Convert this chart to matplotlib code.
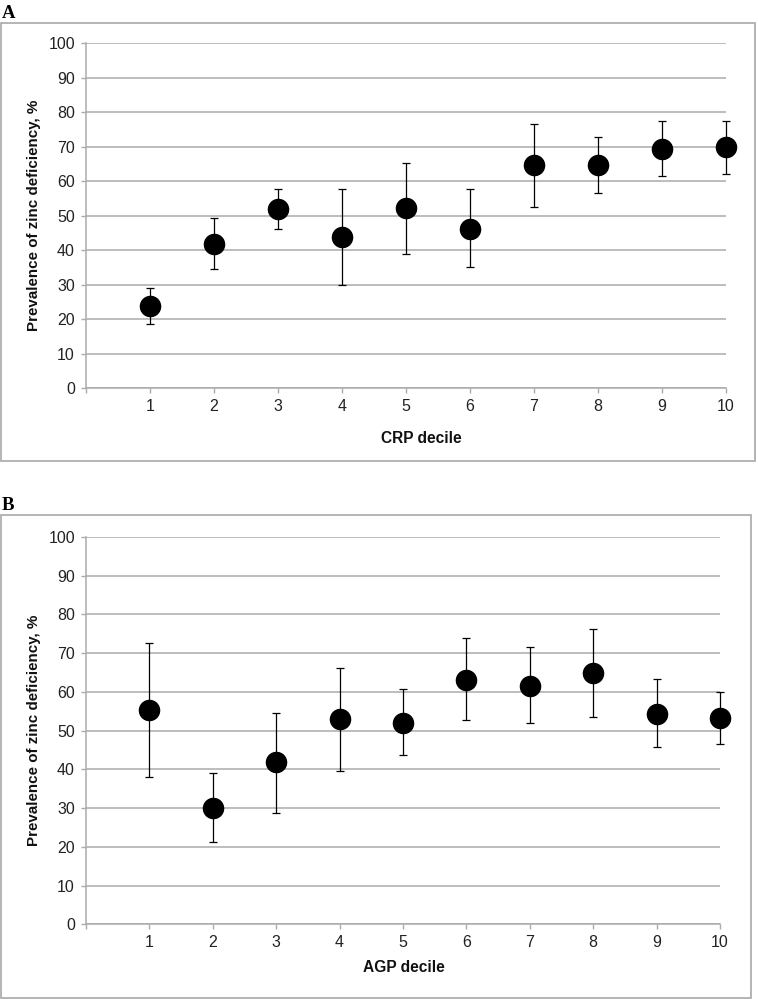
import matplotlib
matplotlib.use("Agg")
import matplotlib.pyplot as plt
from matplotlib import font_manager
from matplotlib.patches import Rectangle

# ---------------- data ----------------
deciles = [1, 2, 3, 4, 5, 6, 7, 8, 9, 10]
tick_labels = ["1", "2", "3", "4", "5", "6", "7", "8", "9", "10"]

crp_prev = [23.9, 41.9, 52.0, 43.9, 52.2, 46.3, 64.6, 64.6, 69.5, 69.9]
crp_upper = [29.0, 49.4, 57.9, 57.9, 65.4, 57.7, 76.7, 72.9, 77.5, 77.6]
crp_lower = [18.6, 34.5, 46.2, 29.9, 39.0, 35.3, 52.5, 56.6, 61.5, 62.0]

agp_prev = [55.4, 30.0, 41.8, 52.9, 52.1, 63.1, 61.5, 65.0, 54.4, 53.2]
agp_upper = [72.6, 39.1, 54.5, 66.2, 60.7, 73.8, 71.5, 76.2, 63.3, 60.1]
agp_lower = [38.1, 21.3, 28.8, 39.6, 43.6, 52.8, 52.0, 53.5, 45.8, 46.5]

y_ticks = [0, 10, 20, 30, 40, 50, 60, 70, 80, 90, 100]
y_label = "Prevalence of zinc deficiency, %"

# ---------------- fonts ----------------
avail = {f.name for f in font_manager.fontManager.ttflist}
narrow = "Liberation Sans Narrow" if "Liberation Sans Narrow" in avail else "Liberation Sans"
sans = "Liberation Sans" if "Liberation Sans" in avail else "DejaVu Sans"
serif = "Liberation Serif" if "Liberation Serif" in avail else "DejaVu Serif"

W, H = 758, 999
fig = plt.figure(figsize=(W / 100, H / 100), dpi=100)

GRID = "#ababab"
FRAME = "#a8a8a8"


def px_rect(x0, y0, x1, y1):
    return [x0 / W, 1 - y1 / H, (x1 - x0) / W, (y1 - y0) / H]


def make_panel(rect, prev, upper, lower, xlabel, xlab_pos):
    ax = fig.add_axes(rect)
    lo = [p - l for p, l in zip(prev, lower)]
    hi = [u - p for p, u in zip(prev, upper)]
    ax.errorbar(deciles, prev, yerr=[lo, hi], fmt="o", color="black",
                ecolor="black", elinewidth=0.9, capsize=3.2, capthick=0.9,
                markersize=14.5, zorder=3, clip_on=False)
    ax.set_xlim(0, 10)
    ax.set_ylim(0, 100)
    ax.set_yticks(y_ticks)
    ax.set_yticklabels([str(v) for v in y_ticks])
    ax.set_xticks([0] + deciles)
    ax.set_xticklabels([""] + tick_labels)
    for s in ["top", "right"]:
        ax.spines[s].set_visible(False)
    for s in ["left", "bottom"]:
        ax.spines[s].set_color(GRID)
        ax.spines[s].set_linewidth(1.1)
    ax.yaxis.grid(True, color=GRID, linewidth=1.1, zorder=0)
    ax.set_axisbelow(True)
    ax.tick_params(axis="both", length=3.5, width=1.0, color=GRID,
                   labelsize=11.5, labelcolor="#222222", pad=4.5)
    for lab in ax.get_xticklabels() + ax.get_yticklabels():
        lab.set_family(narrow)
    ax.set_ylabel(y_label, fontsize=10.9, fontweight="bold", family=sans,
                  color="#111111")
    ax.yaxis.set_label_coords(-52 / (rect[2] * W), 0.5)
    ax.yaxis.label.set_va("center")
    ax.set_xlabel(xlabel, fontsize=11.2, fontweight="bold", family=narrow,
                  color="#111111")
    ax.xaxis.set_label_coords(*xlab_pos)
    ax.xaxis.label.set_va("center")
    return ax


# Panel A
rectA = px_rect(86, 43.3, 726, 388.3)
make_panel(rectA, crp_prev, crp_upper, crp_lower, "CRP decile",
           ((421 - 86) / 640, (388.3 - 438.5) / 345))
# Panel B
rectB = px_rect(86, 537, 720, 924.3)
make_panel(rectB, agp_prev, agp_upper, agp_lower, "AGP decile",
           ((404 - 86) / 634, (924.3 - 967) / 387.3))

# frames around panels
for (x0, y0, x1, y1) in [(1, 22.7, 755, 460.7), (1, 515, 751, 997.5)]:
    fig.patches.append(Rectangle((x0 / W, 1 - y1 / H), (x1 - x0) / W,
                                 (y1 - y0) / H, transform=fig.transFigure,
                                 fill=False, edgecolor=FRAME, linewidth=1.2))

fig.text(2 / W, 1 - 17.5 / H, "A", family=serif, fontweight="bold",
         fontsize=13.5, va="baseline", ha="left")
fig.text(2 / W, 1 - 510.5 / H, "B", family=serif, fontweight="bold",
         fontsize=13.5, va="baseline", ha="left")

fig.savefig("out.png", dpi=100, facecolor="white")
